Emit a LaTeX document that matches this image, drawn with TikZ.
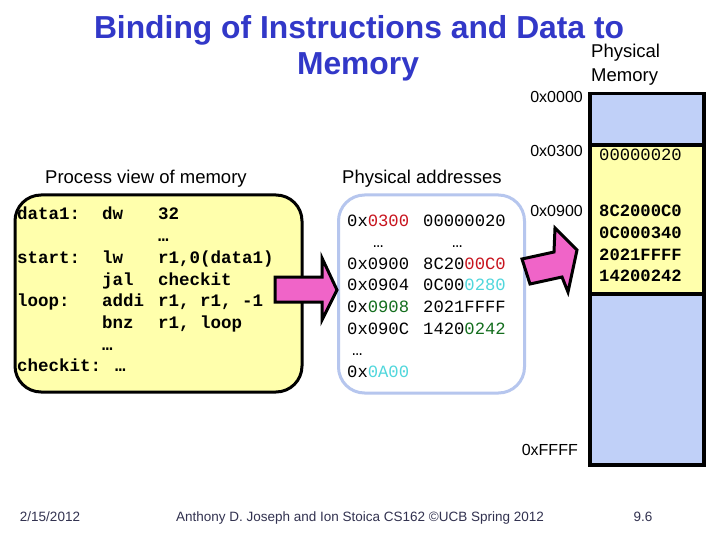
\documentclass[tikz,border=0pt]{standalone}
\usepackage{fontspec}
\setmainfont{Liberation Sans}
\newfontfamily\cour{Liberation Mono}
\definecolor{titleblue}{RGB}{50,56,200}
\definecolor{memyellow}{RGB}{255,255,172}
\definecolor{memblue}{RGB}{192,208,248}
\definecolor{boxblue}{RGB}{182,198,238}
\definecolor{arrowpink}{RGB}{240,100,200}
\definecolor{adred}{RGB}{200,20,30}
\definecolor{adcyan}{RGB}{80,215,220}
\definecolor{adgreen}{RGB}{20,110,30}
\definecolor{footgray}{RGB}{50,50,80}
\tikzset{
  txt/.style={inner sep=0pt, anchor=base west},
  rtxt/.style={inner sep=0pt, anchor=base east},
  ctxt/.style={inner sep=0pt, anchor=base},
  code/.style={txt, font=\cour\bfseries\fontsize{17.5}{20}\selectfont},
  addr/.style={txt, font=\cour\fontsize{17.2}{20}\selectfont},
  memc/.style={txt, font=\cour\bfseries\fontsize{17.2}{20}\selectfont},
  memlbl/.style={rtxt, font=\fontsize{16}{18}\selectfont},
  lbl/.style={txt, font=\fontsize{18.5}{22}\selectfont},
  foot/.style={ctxt, font=\fontsize{13.5}{16}\selectfont, text=footgray},
  titletxt/.style={ctxt, font=\bfseries\fontsize{31.8}{36}\selectfont, text=titleblue},
  blockarrow/.style={fill=arrowpink, draw=black, line width=3pt, line join=miter},
}
\begin{document}
\begin{tikzpicture}[x=1pt,y=-1pt]
\useasboundingbox (0,0) rectangle (720,540);
\fill[white] (0,0) rectangle (720,540);

% Title
\node[titletxt] (t1) at (359,39) {Binding of Instructions and Data to};
\node[titletxt] (t2) at (358,75) {Memory};

% Physical memory heading
\node[txt, font=\fontsize{18.5}{22}\selectfont] (pm1) at (591,58) {Physical};
\node[txt, font=\fontsize{18.5}{22}\selectfont] (pm2) at (591,82) {Memory};

% Section labels
\node[lbl] (pv) at (45,184) {Process view of memory};
\node[lbl] (pa) at (342,184) {Physical addresses};

% Process view box
\node[draw=black, line width=3pt, fill=memyellow, rounded corners=26pt, minimum width=287pt, minimum height=197pt, anchor=north west, inner sep=0pt] (pbox) at (13.5,193.5) {};

\foreach \i/\l/\o/\a in {0/data1:/dw/32, 1///…, 2/start:/lw/{r1,0(data1)}, 3//jal/checkit, 4/loop:/addi/{r1, r1, -1}, 5//bnz/{r1, loop}, 6//…/, 7/{checkit: …}//}{
  \node[code] (pl\i) at (17,220+21.7*\i) {\l};
  \node[code] (po\i) at (102,220+21.7*\i) {\o};
  \node[code] (pr\i) at (158,220+21.7*\i) {\a};
}

% Physical addresses box
\node[draw=boxblue, line width=3pt, fill=white, rounded corners=26pt, minimum width=186pt, minimum height=198pt, anchor=north west, inner sep=0pt] (abox) at (337,193.5) {};

\node[addr] (a0) at (347,226) {0x\textcolor{adred}{0300}};
\node[addr] (d0) at (423,226) {00000020};
\node[addr] (a1) at (373,247.6) {…};
\node[addr] (d1) at (452,247.6) {…};
\node[addr] (a2) at (347,269.2) {0x0900};
\node[addr] (d2) at (423,269.2) {8C20\textcolor{adred}{00C0}};
\node[addr] (a3) at (347,290.8) {0x0904};
\node[addr] (d3) at (423,290.8) {0C00\textcolor{adcyan}{0280}};
\node[addr] (a4) at (347,312.4) {0x\textcolor{adgreen}{0908}};
\node[addr] (d4) at (423,312.4) {2021FFFF};
\node[addr] (a5) at (347,334) {0x090C};
\node[addr] (d5) at (423,334) {1420\textcolor{adgreen}{0242}};
\node[addr] (a6) at (352,355.6) {…};
\node[addr] (a7) at (347,377.2) {0x\textcolor{adcyan}{0A00}};

% Arrow 1 (process view -> physical addresses)
\draw[blockarrow] (275,277) -- (322,277) -- (322,258) -- (337,290) -- (322,320) -- (322,302) -- (275,302) -- cycle;

% Physical memory column
\fill[memblue] (588,92) rectangle (702,145);
\fill[memyellow] (588,145) rectangle (702,294);
\fill[memblue] (588,294) rectangle (702,463);
\draw[line width=3.5pt] (588,145) -- (702,145);
\draw[line width=3.5pt] (588,294) -- (702,294);
\node[draw=black, line width=3.5pt, minimum width=114pt, minimum height=371pt, anchor=north west, inner sep=0pt] (mem) at (588,92) {};

\node[addr] (m0) at (599,161) {00000020};
\node[memc] (m1) at (599,217) {8C2000C0};
\node[memc] (m2) at (599,238.5) {0C000340};
\node[memc] (m3) at (599,260) {2021FFFF};
\node[memc] (m4) at (599,281.5) {14200242};

\node[memlbl] (l0) at (583,103) {0x0000};
\node[memlbl] (l1) at (583,157) {0x0300};
\node[memlbl] (l2) at (583,216) {0x0900};
\node[memlbl] (l3) at (578,455) {0xFFFF};

% Arrow 2 (physical addresses -> memory)
\draw[blockarrow] (522,259) -- (554,252) -- (555,228) -- (577,250) -- (568,292) -- (562,277) -- (530,284) -- cycle;

% Footer
\node[foot] (f1) at (50,521) {2/15/2012};
\node[foot] (f2) at (360,521) {Anthony D. Joseph and Ion Stoica CS162 ©UCB Spring 2012};
\node[foot] (f3) at (643,521) {9.6};
\end{tikzpicture}
\end{document}
